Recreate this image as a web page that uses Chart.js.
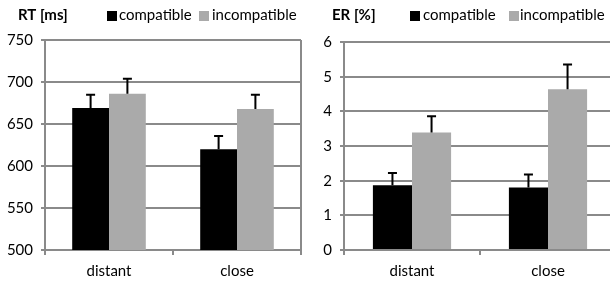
<!DOCTYPE html>
<html>
<head>
<meta charset="utf-8">
<script src="https://cdn.jsdelivr.net/npm/chart.js@4.4.1/dist/chart.umd.min.js"></script>
<style>
  html, body { margin: 0; padding: 0; background: #fff; overflow: hidden; }
  body { width: 610px; height: 281px; position: relative; }
  .box { position: absolute; top: 0; height: 281px; }
  #b1 { left: 0; width: 305px; }
  #b2 { left: 305px; width: 320px; }
</style>
</head>
<body>
<div class="box" id="b1"><canvas id="c1"></canvas></div>
<div class="box" id="b2"><canvas id="c2"></canvas></div>
<script>
const categories = ["distant", "close"];
const seriesNames = ["compatible", "incompatible"];
const seriesColors = ["#000000", "#aaaaaa"];

const rtCompatible = [669, 620];
const rtIncompatible = [686, 668];
const rtErrCompatible = [17, 17];
const rtErrIncompatible = [19, 18];
const rtTicks = [500, 550, 600, 650, 700, 750];

const erCompatible = [1.87, 1.80];
const erIncompatible = [3.39, 4.64];
const erErrCompatible = [0.38, 0.41];
const erErrIncompatible = [0.50, 0.74];
const erTicks = [0, 1, 2, 3, 4, 5, 6];

const FONT = "Lato";
const GRID = "#8a8a8a";

const errorBars = {
  id: 'errorBars',
  afterDatasetsDraw(chart) {
    const ctx = chart.ctx;
    const ys = chart.scales.y;
    chart.data.datasets.forEach((ds, i) => {
      const meta = chart.getDatasetMeta(i);
      meta.data.forEach((bar, j) => {
        const v = ds.data[j], e = ds.err[j];
        const yTop = ys.getPixelForValue(v + e);
        const yBase = ys.getPixelForValue(v);
        ctx.save();
        ctx.strokeStyle = "#000";
        ctx.lineWidth = 2;
        ctx.beginPath();
        ctx.moveTo(bar.x, yBase);
        ctx.lineTo(bar.x, yTop);
        ctx.moveTo(bar.x - 4.5, yTop + 1);
        ctx.lineTo(bar.x + 4.5, yTop + 1);
        ctx.stroke();
        ctx.restore();
      });
    });
  }
};

const frame = {
  id: 'frame',
  beforeDatasetsDraw(chart) {
    const a = chart.chartArea, ctx = chart.ctx;
    ctx.save();
    ctx.strokeStyle = GRID;
    ctx.lineWidth = 2;
    ctx.beginPath();
    ctx.moveTo(a.right, a.top);
    ctx.lineTo(a.right, a.bottom);
    ctx.stroke();
    ctx.restore();
  }
};

const header = {
  id: 'header',
  afterDraw(chart) {
    const o = chart.options.plugins.header;
    const ctx = chart.ctx;
    ctx.save();
    ctx.textBaseline = "alphabetic";
    ctx.fillStyle = "#000";
    ctx.font = "bold 15px " + FONT;
    ctx.fillText(o.title, o.titleX, 20);
    ctx.font = "15px " + FONT;
    o.items.forEach((it, k) => {
      ctx.fillStyle = seriesColors[k];
      ctx.fillRect(it.box, 11, 10, 10);
      ctx.fillStyle = "#000";
      ctx.fillText(seriesNames[k], it.text, 20);
    });
    ctx.restore();
  }
};

function makeChart(id, c, inc, ec, ei, ticks, opts) {
  return new Chart(document.getElementById(id), {
    type: 'bar',
    data: {
      labels: categories,
      datasets: [
        { label: seriesNames[0], data: c, err: ec, backgroundColor: seriesColors[0], categoryPercentage: 0.575, barPercentage: 1 },
        { label: seriesNames[1], data: inc, err: ei, backgroundColor: seriesColors[1], categoryPercentage: 0.575, barPercentage: 1 }
      ]
    },
    options: {
      responsive: true,
      maintainAspectRatio: false,
      animation: false,
      layout: { padding: { top: opts.top, right: opts.right, left: 0, bottom: 0 } },
      plugins: {
        legend: { display: false },
        tooltip: { enabled: false },
        header: opts.header
      },
      scales: {
        x: {
          grid: { drawOnChartArea: false, drawTicks: true, tickLength: 5, color: GRID, lineWidth: 2, offset: true },
          border: { display: true, color: GRID, width: 2 },
          ticks: { color: "#000", font: { family: FONT, size: 15 }, padding: 7 },
          afterFit(s) { s.height = 281 - 250 - 0; }
        },
        y: {
          min: ticks[0], max: ticks[ticks.length - 1],
          afterBuildTicks(s) { s.ticks = ticks.map(v => ({ value: v })); },
          grid: { color: GRID, lineWidth: 2, tickLength: 4 },
          border: { display: true, color: GRID, width: 2 },
          ticks: { color: "#000", font: { family: FONT, size: 15 }, padding: 8 },
          afterFit(s) { s.width = opts.yw; }
        }
      }
    },
    plugins: [errorBars, frame, header]
  });
}

makeChart('c1', rtCompatible, rtIncompatible, rtErrCompatible, rtErrIncompatible, rtTicks, {
  top: 40, right: 4, yw: 45,
  header: { title: "RT [ms]", titleX: 18, items: [{ box: 107, text: 119 }, { box: 199, text: 212 }] }
});
makeChart('c2', erCompatible, erIncompatible, erErrCompatible, erErrIncompatible, erTicks, {
  top: 42, right: 9, yw: 39,
  header: { title: "ER [%]", titleX: 27, items: [{ box: 105, text: 118 }, { box: 204, text: 215 }] }
});
</script>
</body>
</html>
